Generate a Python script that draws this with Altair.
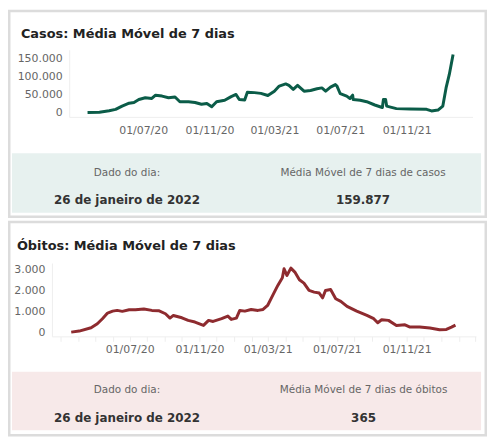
import altair as alt
import pandas as pd

# ---------------- data ----------------
cases_dates = [
    "2020-03-20", "2020-04-11", "2020-04-29", "2020-05-11", "2020-05-23", "2020-06-05",
    "2020-06-14", "2020-06-23", "2020-07-05", "2020-07-17", "2020-07-24", "2020-08-05",
    "2020-08-17", "2020-08-29", "2020-09-07", "2020-09-23", "2020-10-05", "2020-10-17",
    "2020-10-27", "2020-11-05", "2020-11-14", "2020-11-29", "2020-12-11", "2020-12-20",
    "2020-12-26", "2021-01-05", "2021-01-10", "2021-01-23", "2021-02-04", "2021-02-17",
    "2021-03-01", "2021-03-10", "2021-03-22", "2021-03-28", "2021-04-05", "2021-04-13",
    "2021-04-25", "2021-05-07", "2021-05-19", "2021-05-28", "2021-06-04", "2021-06-13",
    "2021-06-22", "2021-06-25", "2021-07-01", "2021-07-13", "2021-07-19", "2021-07-24",
    "2021-07-25", "2021-08-07", "2021-08-19", "2021-09-03", "2021-09-14", "2021-09-17",
    "2021-09-19", "2021-09-23", "2021-09-25", "2021-10-13", "2021-11-07", "2021-12-08",
    "2021-12-17", "2021-12-29", "2022-01-07", "2022-01-13", "2022-01-19", "2022-01-26",
]
cases_values = [
    300, 1000, 5000, 9000, 18000, 26000,
    28000, 36000, 41000, 39000, 48000, 45500,
    41000, 43000, 30000, 30000, 28000, 23000,
    25000, 16000, 30000, 34000, 44000, 50000,
    36000, 35000, 56000, 55000, 53000, 47000,
    59000, 73000, 79000, 75000, 64000, 75000,
    59000, 61000, 65500, 68000, 59000, 70000,
    77000, 73000, 52000, 45500, 39000, 48000,
    36000, 34000, 30000, 21000, 15500, 14000,
    36000, 36000, 18000, 11000, 10000, 9000,
    4600, 7000, 18000, 68000, 105000, 159877,
]

deaths_dates = [
    "2020-03-20", "2020-04-03", "2020-04-24", "2020-05-05", "2020-05-14", "2020-05-23",
    "2020-06-01", "2020-06-09", "2020-06-18", "2020-06-30", "2020-07-11", "2020-07-26",
    "2020-08-09", "2020-08-21", "2020-09-02", "2020-09-10", "2020-09-16", "2020-10-01",
    "2020-10-12", "2020-10-24", "2020-11-08", "2020-11-17", "2020-11-25", "2020-12-10",
    "2020-12-21", "2020-12-27", "2021-01-05", "2021-01-11", "2021-01-20", "2021-01-31",
    "2021-02-12", "2021-02-21", "2021-03-01", "2021-03-10", "2021-03-19", "2021-03-27",
    "2021-03-30", "2021-04-04", "2021-04-11", "2021-04-18", "2021-04-26", "2021-05-04",
    "2021-05-13", "2021-05-22", "2021-05-31", "2021-06-06", "2021-06-11", "2021-06-20",
    "2021-06-29", "2021-07-08", "2021-07-19", "2021-08-05", "2021-08-23", "2021-09-04",
    "2021-09-11", "2021-09-18", "2021-09-30", "2021-10-14", "2021-10-29", "2021-11-07",
    "2021-11-24", "2021-12-12", "2021-12-29", "2022-01-10", "2022-01-19", "2022-01-26",
]
deaths_values = [
    30, 80, 240, 430, 670, 940,
    1030, 1065, 1020, 1095, 1095, 1130,
    1065, 1050, 905, 700, 825, 715,
    590, 510, 350, 590, 540, 670,
    795, 635, 700, 1065, 1030, 1110,
    1065, 1110, 1300, 1780, 2255, 2620,
    3050, 2730, 3080, 2890, 2525, 2365,
    2015, 1935, 1890, 1665, 2015, 2060,
    1620, 1495, 1255, 1030, 825, 670,
    475, 620, 590, 350, 380, 270,
    270, 225, 145, 160, 270, 365,
]

cases_ticks = [0, 50000, 100000, 150000]
deaths_ticks = [0, 1000, 2000, 3000]
label_months = ["2020-03-01", "2020-07-01", "2020-11-01", "2021-03-01",
                "2021-07-01", "2021-11-01", "2022-03-01"]
monthly_ticks = [d.strftime("%Y-%m-%d") for d in pd.date_range("2020-03-01", "2022-03-01", freq="MS")]

title_cases = "Casos: Média Móvel de 7 dias"
title_deaths = "Óbitos: Média Móvel de 7 dias"
day_label = "Dado do dia:"
day_value = "26 de janeiro de 2022"
cases_caption = "Média Móvel de 7 dias de casos"
cases_latest = "159.877"
deaths_caption = "Média Móvel de 7 dias de óbitos"
deaths_latest = "365"

# ---------------- styling ----------------
W, H = 483, 431
FONT = "DejaVu Sans"
GREEN = "#0b5c48"
RED = "#8e2b2f"
BORDER = "#dcdcdc"
GREEN_BG = "#e7f1ef"
RED_BG = "#f7e9e9"


def dt(s):
    y, m, d = (int(p) for p in s.split("-"))
    return alt.DateTime(year=y, month=m, date=d)


x_domain = [dt("2020-02-15"), dt("2022-03-03")]
label_expr_x = ("month(datum.value) % 4 == 2 && datum.value > time(datetime(2020, 3, 15)) "
                "&& datum.value < time(datetime(2022, 0, 15)) ? timeFormat(datum.value, '%d/%m/%y') : ''")
label_expr_y = "replace(format(datum.value, ','), ',', '.')"

one = pd.DataFrame({"k": [1]})


def box(x, x2, y, y2, **style):
    return alt.Chart(one).mark_rect(**style).encode(
        x=alt.value(x), x2=alt.value(x2), y=alt.value(y), y2=alt.value(y2))


def label(txt, x, y, **style):
    return alt.Chart(pd.DataFrame({"t": [txt]})).mark_text(font=FONT, **style).encode(
        x=alt.value(x), y=alt.value(y), text="t:N")


def axis_common(**kw):
    base = dict(grid=False, domainColor="#eeeeee", domainWidth=1, labelFont=FONT,
                labelFontSize=11, labelColor="#666666", title=None, zindex=1)
    base.update(kw)
    return alt.Axis(**base)


cases_df = pd.DataFrame({"data": pd.to_datetime(cases_dates), "valor": cases_values})
deaths_df = pd.DataFrame({"data": pd.to_datetime(deaths_dates), "valor": deaths_values})

cases_line = alt.Chart(cases_df).mark_line(color=GREEN, strokeWidth=3, strokeJoin="round").encode(
    x=alt.X("data:T",
            scale=alt.Scale(domain=x_domain, range=[61.7, 468.4]),
            axis=axis_common(orient="bottom", offset=108 - H, values=[dt(s) for s in label_months],
                             labelExpr=label_expr_x, ticks=False, tickSize=0, labelPadding=7.5,
                             labelOverlap=False, labelFlush=False, labelAngle=0)),
    y=alt.Y("valor:Q",
            scale=alt.Scale(domain=[-11700, 172900], range=[108, 40.3], nice=False, zero=False),
            axis=axis_common(orient="left", offset=-61.7, values=cases_ticks, labelExpr=label_expr_y,
                             ticks=False, tickSize=0, labelPadding=7)),
)

deaths_line = alt.Chart(deaths_df).mark_line(color=RED, strokeWidth=3, strokeJoin="round").encode(
    x=alt.X("data:T",
            scale=alt.Scale(domain=x_domain, range=[44.3, 471.8]),
            axis=axis_common(orient="bottom", offset=329.3 - H, values=[dt(s) for s in monthly_ticks],
                             labelExpr=label_expr_x, ticks=True, tickSize=5, tickColor="#eeeeee",
                             labelPadding=2.5, labelOverlap=False, labelFlush=False, labelAngle=0)),
    y=alt.Y("valor:Q",
            scale=alt.Scale(domain=[-171, 3324], range=[329.3, 255.3], nice=False, zero=False),
            axis=axis_common(orient="left", offset=-44.3, values=deaths_ticks, labelExpr=label_expr_y,
                             ticks=False, tickSize=0, labelPadding=7)),
)

small = dict(fontSize=10.5, color="#666666", align="center", baseline="middle")
big = dict(fontSize=12, fontWeight="bold", color="#333333", align="center", baseline="middle")
ttl = dict(fontSize=13, fontWeight="bold", color="#222222", align="left", baseline="middle")

layers = [
    box(1.25, 481.75, 1.25, 208.75, fill="white", stroke=BORDER, strokeWidth=2.5),
    box(1.25, 481.75, 214, 429, fill="white", stroke=BORDER, strokeWidth=2.5),
    box(4, 477, 144.7, 204.7, fill=GREEN_BG),
    box(4, 477, 365, 424, fill=RED_BG),
    label(title_cases, 13, 24, **ttl),
    label(title_deaths, 9, 238.7, **ttl),
    label(day_label, 120, 165, **small),
    label(cases_caption, 358, 165, **small),
    label(day_value, 120, 192, **big),
    label(cases_latest, 358, 192, **big),
    label(day_label, 120, 383.7, **small),
    label(deaths_caption, 358.5, 383.7, **small),
    label(day_value, 120, 411.3, **big),
    label(deaths_latest, 358.5, 411.3, **big),
    cases_line,
    deaths_line,
]

chart = (
    alt.layer(*layers)
    .resolve_scale(x="independent", y="independent")
    .properties(width=W, height=H, autosize=alt.AutoSizeParams(type="none"), padding=0)
    .configure_view(stroke=None)
)

chart.save("out.html", embed_options={"renderer": "svg", "actions": False})
